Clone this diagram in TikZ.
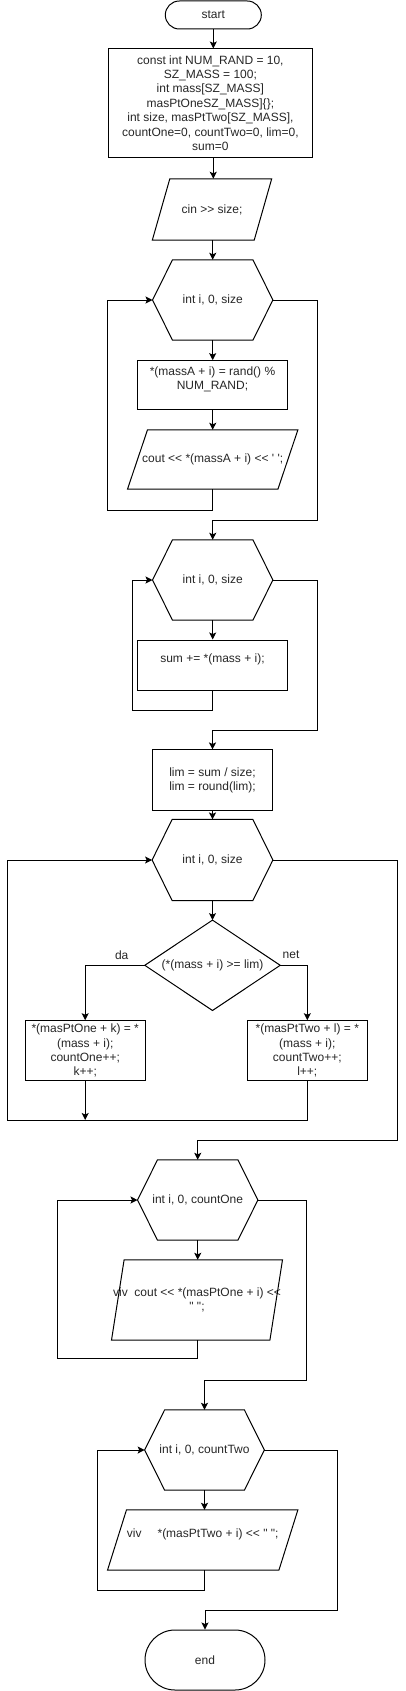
\documentclass[tikz,border=0pt]{standalone}
\usepackage{fontspec}
\newfontfamily\dfont{Liberation Sans}
\usetikzlibrary{arrows.meta}
\tikzset{
  txt/.style={font=\dfont\fontsize{12}{14.4}\selectfont, align=center, inner sep=0pt, text=black!85},
  ghost/.style={txt, draw=none},
  box/.style={txt, draw, line width=1pt},
  outline/.style={draw, line width=1pt, line join=miter},
  arr/.style={line width=1pt, -{Stealth[length=7pt,width=7pt,inset=1.5pt]}},
}
% hexagon: name, x, y, w, h, text
\newcommand\hexa[6]{%
  \node[ghost, minimum width=#4pt, minimum height=#5pt] (#1) at (#2,#3) {#6};
  \draw[outline] (#1.west) -- ([xshift=20pt]#1.north west) -- ([xshift=-20pt]#1.north east)
    -- (#1.east) -- ([xshift=-20pt]#1.south east) -- ([xshift=20pt]#1.south west) -- cycle;}
% parallelogram: name, x, y, w, h, slant, text
\newcommand\para[7]{%
  \node[ghost, minimum width=#4pt, minimum height=#5pt] (#1) at (#2,#3) {#7};
  \draw[outline] (#1.south west) -- ([xshift=#6pt]#1.north west) -- (#1.north east)
    -- ([xshift=-#6pt]#1.south east) -- cycle;}
\begin{document}
\begin{tikzpicture}[x=1pt,y=-1pt]
\useasboundingbox (0,0) rectangle (406,1691);
\node[box, rounded corners=14pt, minimum width=96pt, minimum height=28pt] (start) at (213.3,15) {start};
\node[box, minimum width=204.7pt, minimum height=108pt] (r1) at (210.4,103)
  {const int NUM\_RAND = 10,\\SZ\_MASS = 100;\\int mass[SZ\_MASS]\\masPtOneSZ\_MASS]\{\};\\int size, masPtTwo[SZ\_MASS],\\countOne=0, countTwo=0, lim=0,\\sum=0};
\para{p1}{212}{209.5}{119}{61}{17.5}{cin >{}> size;}
\hexa{h1}{212.7}{300}{120}{80}{int i, 0, size}
\node[box, minimum width=150.4pt, minimum height=49.3pt] (r2) at (212.5,385.3)
  {*(massA + i) = rand() \%\\NUM\_RAND;\\\mbox{}};
\para{p2}{212.7}{459.5}{170}{59}{20}{cout <{}< *(massA + i) <{}< ' ';}
\hexa{h2}{212.7}{580}{120}{80}{int i, 0, size}
\node[box, minimum width=150.4pt, minimum height=50pt] (r3) at (212.5,665)
  {sum += *(mass + i);\\\mbox{}};
\node[box, minimum width=120.4pt, minimum height=60.7pt] (lim) at (212.5,780.3)
  {lim = sum / size;\\lim = round(lim);};
\hexa{h3}{212.5}{860}{120.4}{80.7}{int i, 0, size}
\node[ghost, minimum width=135pt, minimum height=90pt] (dia) at (212.5,965.3) {(*(mass + i) >= lim)};
\draw[outline] (dia.north) -- (dia.east) -- (dia.south) -- (dia.west) -- cycle;
\node[txt] (da) at (121.7,955) {da};
\node[txt] (net) at (291,955) {net};
\node[box, minimum width=120pt, minimum height=60pt] (rL) at (85.2,1050.7)
  {*(masPtOne + k) = *\\(mass + i);\\countOne++;\\k++;};
\node[box, minimum width=120pt, minimum height=60pt] (rR) at (307.3,1050.7)
  {*(masPtTwo + l) = *\\(mass + i);\\countTwo++;\\l++;};
\hexa{h4}{197.7}{1200}{120}{80}{int i, 0, countOne}
\para{p4}{197}{1300}{170.6}{80}{12.6}{viv\ \ cout <{}< *(masPtOne + i) <{}<\\" ";}
\hexa{h5}{204.5}{1450}{119.3}{80}{int i, 0, countTwo}
\para{p5}{202.7}{1540}{190}{60}{19}{viv\hspace{16pt}*(masPtTwo + i) <{}< " ";\\\mbox{}}
\node[box, rounded corners=30pt, minimum width=120pt, minimum height=60pt] (end) at (205,1660) {end};
\coordinate (bot3) at (7.3,1120);
% connectors
\draw[arr] (start) -- (r1.north -| start);
\draw[arr] (r1.south -| start) -- (p1.north -| start);
\draw[arr] (p1.south -| h1) -- (h1.north);
\draw[arr] (h1.south) -- (r2.north -| h1);
\draw[arr] (r2.south -| h1) -- (p2.north -| h1);
\draw[arr] (p2.south -| h1) |- (107.3,510) |- (h1.west);
\draw[arr] (h1.east) -| (317.7,520) -| (h2.north);
\draw[arr] (h2.south) -- (r3.north -| h2);
\draw[arr] (r3.south -| h2) |- (132.3,710) |- (h2.west);
\draw[arr] (h2.east) -| (317.7,730) -| (lim.north);
\draw[arr] (lim.south) -- (h3.north);
\draw[arr] (h3.south) -- (dia.north);
\draw[arr] (dia.west) -| (rL.north);
\draw[arr] (dia.east) -| (rR.north);
\draw[arr] (rL.south) -- (rL.south |- bot3);
\draw[arr] (rR.south) |- (bot3) |- (h3.west);
\draw[arr] (h3.east) -| (397.3,1140) -| (h4.north);
\draw[arr] (h4.south) -- (p4.north -| h4);
\draw[arr] (p4.south -| h4) |- (57.3,1358) |- (h4.west);
\draw[arr] (h4.east) -| (306.7,1380) -| (h5.north);
\draw[arr] (h5.south) -- (p5.north -| h5);
\draw[arr] (p5.south -| h5) |- (97.3,1590) |- (h5.west);
\draw[arr] (h5.east) -| (337.3,1610) -| (end.north);
\end{tikzpicture}
\end{document}
